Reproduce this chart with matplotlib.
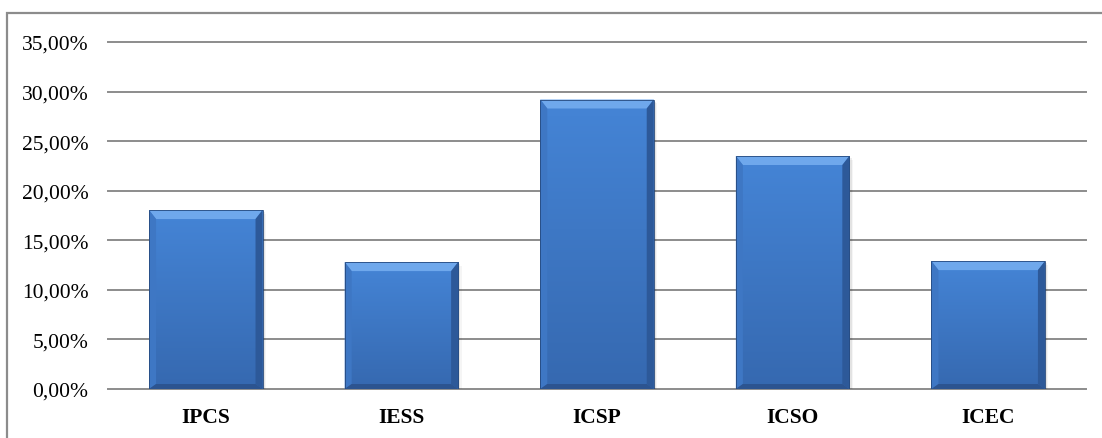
import matplotlib
matplotlib.use("Agg")
import matplotlib.pyplot as plt
import numpy as np
from matplotlib.patches import Polygon, Rectangle
from matplotlib.ticker import FuncFormatter

categories = ['IPCS', 'IESS', 'ICSP', 'ICSO', 'ICEC']
values = [18.05, 12.8, 29.2, 23.5, 12.9]
yticks = [0, 5, 10, 15, 20, 25, 30, 35]

plt.rcParams['font.family'] = ['Liberation Serif', 'DejaVu Serif']

fig = plt.figure(figsize=(11.02, 4.39), dpi=100)
ax = fig.add_axes([108 / 1102, 49 / 439, 978 / 1102, 347 / 439])

# outer chart border (only top and left visible in the reference)
fig.patches.append(Rectangle((7 / 1102, -0.1), 1.2, (439 - 14) / 439 + 0.1,
                             transform=fig.transFigure, fill=False,
                             edgecolor='#8c8c8c', linewidth=1.6))

x = np.arange(len(categories))
width = 0.58
bars = ax.bar(x, values, width, color='#3c74c2', zorder=3)

# pixel -> data unit conversion
px_x = 1 / (978 / 5)
px_y = 1 / (347 / 35)
side = 7 * px_x
top_h = 9 * px_y
bot_h = 5 * px_y

grad = np.linspace(0, 1, 256).reshape(-1, 1)
top_c = np.array([0.27, 0.52, 0.84])
bot_c = np.array([0.21, 0.41, 0.69])

for b in bars:
    x0, y0 = b.get_x(), b.get_y()
    w, h = b.get_width(), b.get_height()
    x1, y1 = x0 + w, y0 + h
    # soft shadow
    for i, a in enumerate([0.10, 0.07, 0.04]):
        d = (i + 1) * 0.006
        ax.add_patch(Rectangle((x0 + d, y0 - (i + 1) * 0.12), w, h,
                               color='black', alpha=a, zorder=2, lw=0))
    # body gradient
    col = (1 - grad) * top_c + grad * bot_c
    im = ax.imshow(col.reshape(256, 1, 3), extent=(x0, x1, y0, y1),
                   aspect='auto', origin='upper', zorder=4)
    im.set_clip_path(b)
    # bevel edges
    ax.add_patch(Polygon([(x0, y1), (x1, y1), (x1 - side, y1 - top_h), (x0 + side, y1 - top_h)],
                         closed=True, color='#6fa8ec', lw=0, zorder=5))
    ax.add_patch(Polygon([(x0, y0), (x0, y1), (x0 + side, y1 - top_h), (x0 + side, y0 + bot_h)],
                         closed=True, color='#3e77c4', lw=0, zorder=5))
    ax.add_patch(Polygon([(x1, y0), (x1, y1), (x1 - side, y1 - top_h), (x1 - side, y0 + bot_h)],
                         closed=True, color='#2d5999', lw=0, zorder=5))
    ax.add_patch(Polygon([(x0, y0), (x1, y0), (x1 - side, y0 + bot_h), (x0 + side, y0 + bot_h)],
                         closed=True, color='#2c5490', lw=0, zorder=5))
    ax.add_patch(Rectangle((x0, y0), w, h, fill=False, edgecolor='#25497e',
                           lw=0.6, zorder=6))

ax.set_xlim(-0.5, len(categories) - 0.5)
ax.set_ylim(0, 35)
ax.set_yticks(yticks)
ax.yaxis.set_major_formatter(FuncFormatter(lambda v, p: f'{v:.2f}'.replace('.', ',') + '%'))
ax.set_xticks(x)
ax.set_xticklabels(categories, fontweight='bold')
ax.grid(axis='y', color='#8c8c8c', linewidth=1.4, zorder=1)
ax.set_axisbelow(True)
for gl in ax.get_ygridlines():
    gl.set_clip_on(False)
for s in ax.spines.values():
    s.set_visible(False)
ax.tick_params(axis='both', length=0, labelsize=15.5)
ax.tick_params(axis='y', pad=14)
ax.tick_params(axis='x', pad=13)

fig.savefig('out.png', dpi=100)
